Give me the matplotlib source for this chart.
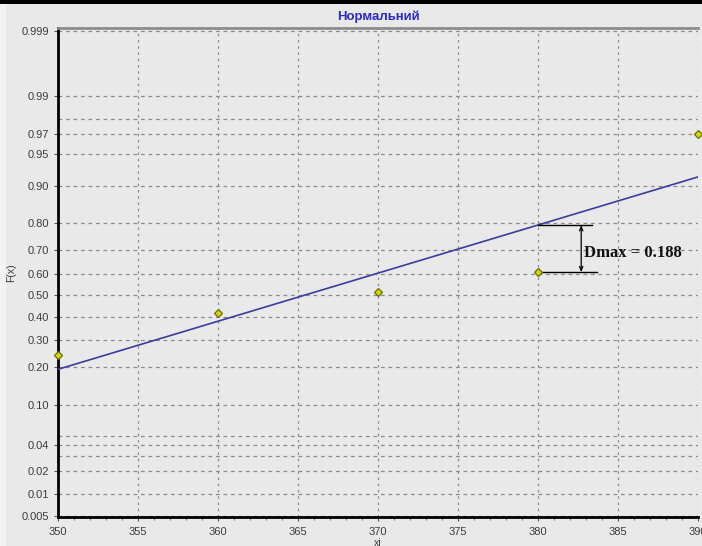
import math
import numpy as np
import matplotlib
matplotlib.use("Agg")
import matplotlib.pyplot as plt
from matplotlib.patches import Rectangle
from matplotlib.ticker import FixedLocator, FixedFormatter, MultipleLocator

# Empirical distribution points
xi = [350, 360, 370, 380, 390]
F_emp = [0.241, 0.42, 0.514, 0.606, 0.97]

# Fitted normal distribution
mu = 365.4
sigma = 17.8
d_max = 0.188
d_max_x = 380

# Probability axis ticks
y_major = [0.005, 0.01, 0.02, 0.04, 0.10, 0.20, 0.30, 0.40, 0.50,
           0.60, 0.70, 0.80, 0.90, 0.95, 0.97, 0.99, 0.999]
y_major_labels = ["0.005", "0.01", "0.02", "0.04", "0.10", "0.20", "0.30",
                  "0.40", "0.50", "0.60", "0.70", "0.80", "0.90", "0.95",
                  "0.97", "0.99", "0.999"]
y_minor = [0.03, 0.05, 0.98]
x_major = [350, 355, 360, 365, 370, 375, 380, 385, 390]

_erf = np.vectorize(math.erf)


def norm_cdf(z):
    z = np.asarray(z, dtype=float)
    return 0.5 * (1.0 + _erf(z / math.sqrt(2.0)))


def norm_ppf(p):
    # Acklam's rational approximation of the inverse normal CDF
    p = np.clip(np.asarray(p, dtype=float), 1e-12, 1 - 1e-12)
    a = [-3.969683028665376e+01, 2.209460984245205e+02, -2.759285104469687e+02,
         1.383577518672690e+02, -3.066479806614716e+01, 2.506628277459239e+00]
    b = [-5.447609879822406e+01, 1.615858368580409e+02, -1.556989798598866e+02,
         6.680131188771972e+01, -1.328068155288572e+01]
    c = [-7.784894002430293e-03, -3.223964580411365e-01, -2.400758277161838e+00,
         -2.549732539343734e+00, 4.374664141464968e+00, 2.938163982698783e+00]
    d = [7.784695709041462e-03, 3.224671290700398e-01, 2.445134137142996e+00,
         3.754408661907416e+00]
    plow = 0.02425
    phigh = 1 - plow
    out = np.empty_like(p)
    lo = p < plow
    hi = p > phigh
    mid = ~(lo | hi)
    q = np.sqrt(-2 * np.log(p[lo]))
    out[lo] = (((((c[0]*q+c[1])*q+c[2])*q+c[3])*q+c[4])*q+c[5]) / \
              ((((d[0]*q+d[1])*q+d[2])*q+d[3])*q+1)
    q = np.sqrt(-2 * np.log(1 - p[hi]))
    out[hi] = -(((((c[0]*q+c[1])*q+c[2])*q+c[3])*q+c[4])*q+c[5]) / \
               ((((d[0]*q+d[1])*q+d[2])*q+d[3])*q+1)
    q = p[mid] - 0.5
    r = q * q
    out[mid] = (((((a[0]*r+a[1])*r+a[2])*r+a[3])*r+a[4])*r+a[5]) * q / \
               (((((b[0]*r+b[1])*r+b[2])*r+b[3])*r+b[4])*r+1)
    return out


bg = "#e9e9e9"
tick_font = ["Liberation Sans Narrow", "Liberation Sans", "DejaVu Sans"]

fig = plt.figure(figsize=(7.02, 5.46), dpi=100, facecolor=bg)
W, H = 702, 546
left_px, right_px, top_px, bottom_px = 58, 698, 28, 517
ax = fig.add_axes([left_px / W, 1 - bottom_px / H,
                   (right_px - left_px) / W, (bottom_px - top_px) / H])
ax.set_facecolor(bg)

ax.set_yscale("function", functions=(norm_ppf, norm_cdf))
ax.set_xlim(350, 390)
ax.set_ylim(0.0048, 0.9991)

# fitted normal CDF
xs = np.linspace(350, 390, 200)
ax.plot(xs, norm_cdf((xs - mu) / sigma), color="#3b3ba0", lw=1.2, zorder=3)

# empirical points
ax.plot(xi, F_emp, linestyle="none", marker="D", markersize=4.5,
        markerfacecolor="#d6d600", markeredgecolor="#6b6b10",
        markeredgewidth=0.9, zorder=4, clip_on=False)

# Dmax marker
i = xi.index(d_max_x)
y_lo = F_emp[i]
y_hi = F_emp[i] + d_max
x_bar = 382.7
ax.plot([d_max_x, 383.4], [y_hi, y_hi], color="black", lw=1.0, zorder=3)
ax.plot([d_max_x, 383.7], [y_lo, y_lo], color="black", lw=1.0, zorder=3)
ax.annotate("", xy=(x_bar, y_hi), xytext=(x_bar, y_lo),
            arrowprops=dict(arrowstyle="<->,head_length=0.3,head_width=0.12",
                            color="black", lw=0.9, shrinkA=0, shrinkB=0),
            zorder=3)
ax.text(382.9, 0.69, f"Dmax = {d_max}",
        family=["Liberation Serif", "DejaVu Serif"],
        fontsize=12, fontweight="bold", color="#111111",
        ha="left", va="center", zorder=5)

# ticks and grid
ax.yaxis.set_major_locator(FixedLocator(y_major))
ax.yaxis.set_major_formatter(FixedFormatter(y_major_labels))
ax.yaxis.set_minor_locator(FixedLocator(y_minor))
ax.yaxis.set_minor_formatter(FixedFormatter([""] * len(y_minor)))
ax.xaxis.set_major_locator(FixedLocator(x_major))
ax.xaxis.set_minor_locator(MultipleLocator(1))

ax.grid(True, which="both", axis="y", color="#8a8a8a", lw=0.9,
        linestyle=(0, (3, 3)))
ax.grid(True, which="major", axis="x", color="#8a8a8a", lw=0.9,
        linestyle=(0, (2, 3)))

ax.tick_params(axis="both", which="major", direction="out", length=3,
               width=0.8, color="#555555", labelcolor="#3c3c3c",
               labelsize=8)
ax.tick_params(axis="y", which="minor", length=0)
ax.tick_params(axis="x", which="minor", direction="out", length=2,
               width=0.8, color="#777777")
ax.tick_params(axis="x", which="major", pad=4)
for lbl in ax.get_xticklabels() + ax.get_yticklabels():
    lbl.set_family(tick_font)

for side in ("left", "bottom"):
    ax.spines[side].set_color("black")
    ax.spines[side].set_linewidth(2.0)
ax.spines["top"].set_color("#8c8c8c")
ax.spines["top"].set_linewidth(2.0)
ax.spines["right"].set_visible(False)

ax.set_title("Нормальний", color="#2b2bc4", fontsize=9.5, fontweight="bold",
             family=tick_font, pad=6)
ax.set_xlabel("xi", fontsize=7.5, color="#3c3c3c", family=tick_font,
              labelpad=1)
ax.set_ylabel("F(x)", fontsize=7.5, color="#3c3c3c", family=tick_font,
              labelpad=4)

# window frame strips
fig.patches.append(Rectangle((0, 1 - 4 / H), 1, 4 / H, transform=fig.transFigure,
                             facecolor="black", edgecolor="none"))
fig.patches.append(Rectangle((0, 0), 6 / W, 1 - 4 / H, transform=fig.transFigure,
                             facecolor="#f3f3f3", edgecolor="none"))

fig.savefig("out.png", dpi=100, facecolor=bg)
